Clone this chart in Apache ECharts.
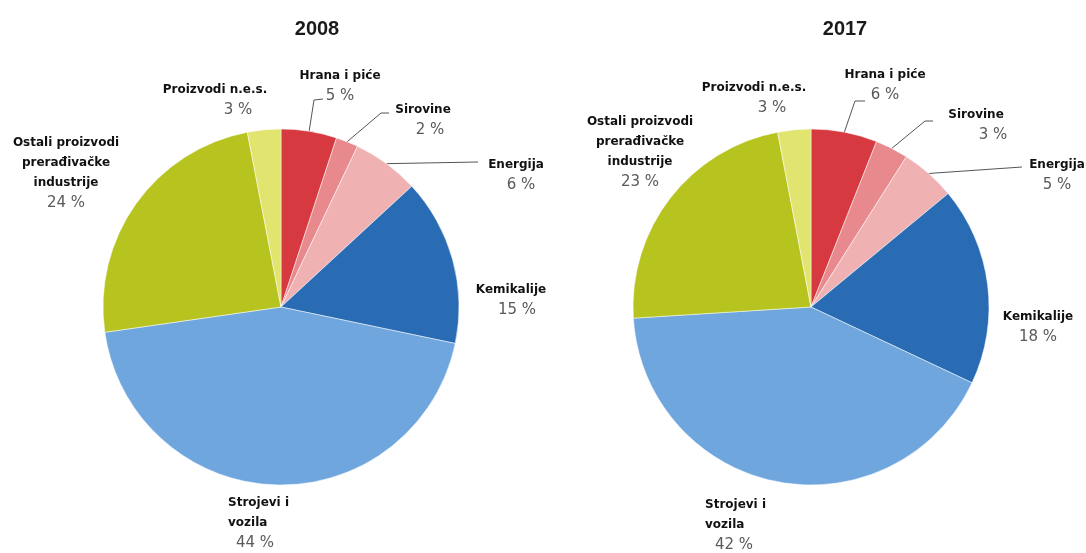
<!DOCTYPE html>
<html>
<head>
<meta charset="utf-8">
<script src="https://cdn.jsdelivr.net/npm/echarts@6/dist/echarts.min.js"></script>
<style>
  html, body { margin: 0; padding: 0; background: #fff; }
  #main { width: 1086px; height: 553px; }
</style>
</head>
<body>
<div id="main"></div>
<script>
// podaci
const years = ['2008', '2017'];
const categories = ['Hrana i piće', 'Sirovine', 'Energija', 'Kemikalije', 'Strojevi i vozila', 'Ostali proizvodi prerađivačke industrije', 'Proizvodi n.e.s.'];
const labelNames = ['Hrana i piće', 'Sirovine', 'Energija', 'Kemikalije', 'Strojevi i\nvozila', 'Ostali proizvodi\nprerađivačke\nindustrije', 'Proizvodi n.e.s.'];
const values2008 = [5, 2, 6, 15, 44, 24, 3];
const values2017 = [6, 3, 5, 18, 42, 23, 3];

const colors = ['#d63a40', '#e8898d', '#f0b1b3', '#2a6cb3', '#6fa6dd', '#b7c41f', '#e1e46e'];

// raspored (pomaci od sredista kruga)
const R = 178;
const centers = [[281, 307], [811, 307]];
const titleX = [312, 840];
const anchors = [
  [[59, -241], [142, -207], [235, -152], [230, -27], [-53, 186, 'left'], [-215, -174], [-66, -227]],
  [[74, -242], [165, -202], [246, -152], [227, 0], [-106, 188, 'left'], [-171, -195], [-57, -229]]
];
// pomak vrijednosti (padding lijevo) ispod naziva
const valuePad = [
  [0, 14, 10, 12, 8, 0, 46],
  [0, 34, 0, 0, 10, 0, 36]
];
const lines = [
  [[[33, -207], [42, -208]], [[100, -194], [108, -194]], [[197, -145], [197, -145]], null, null, null, null],
  [[[44, -206], [54, -206]], [[114, -186], [122, -186]], [[211, -140], [211, -140]], null, null, null, null]
];

const chart = echarts.init(document.getElementById('main'));

function makeLayout(k) {
  const c = centers[k];
  return function (params) {
    const i = params.dataIndex;
    const a = anchors[k][i];
    const res = {
      x: c[0] + a[0],
      y: c[1] + a[1],
      align: a[2] || 'center',
      verticalAlign: 'top'
    };
    const ln = lines[k][i];
    if (ln && params.labelLinePoints) {
      const p0 = params.labelLinePoints[0];
      res.labelLinePoints = [
        [p0[0], p0[1]],
        [c[0] + ln[0][0], c[1] + ln[0][1]],
        [c[0] + ln[1][0], c[1] + ln[1][1]]
      ];
    }
    return res;
  };
}

function makeRich(k) {
  const rich = {
    n: { fontFamily: 'DejaVu Sans', fontWeight: 'bold', fontSize: 12, color: '#111111', lineHeight: 20 }
  };
  valuePad[k].forEach((pad, i) => {
    rich['v' + i] = {
      fontFamily: 'DejaVu Sans', fontSize: 15, color: '#595959', lineHeight: 21,
      padding: [0, 0, 0, pad]
    };
  });
  return rich;
}

function makeSeries(k, vals) {
  return {
    type: 'pie',
    name: years[k],
    center: centers[k],
    radius: R,
    startAngle: 90,
    clockwise: true,
    avoidLabelOverlap: false,
    silent: true,
    itemStyle: { borderColor: '#ffffff', borderWidth: 0.5 },
    label: {
      show: true,
      position: 'outside',
      formatter: p => `{n|${labelNames[p.dataIndex]}}\n{v${p.dataIndex}|${p.value} %}`,
      rich: makeRich(k)
    },
    labelLine: { show: true, lineStyle: { color: '#555555', width: 1 } },
    labelLayout: makeLayout(k),
    data: categories.map((name, i) => ({
      name: name,
      value: vals[i],
      itemStyle: { color: colors[i] },
      labelLine: { show: lines[k][i] != null }
    }))
  };
}

chart.setOption({
  backgroundColor: '#ffffff',
  animation: false,
  title: years.map((y, k) => ({
    text: y,
    left: titleX[k],
    top: 14,
    textAlign: 'center',
    textStyle: { fontFamily: 'Liberation Sans', fontWeight: 'bold', fontSize: 20, color: '#1a1a1a' }
  })),
  series: [makeSeries(0, values2008), makeSeries(1, values2017)]
});
</script>
</body>
</html>
